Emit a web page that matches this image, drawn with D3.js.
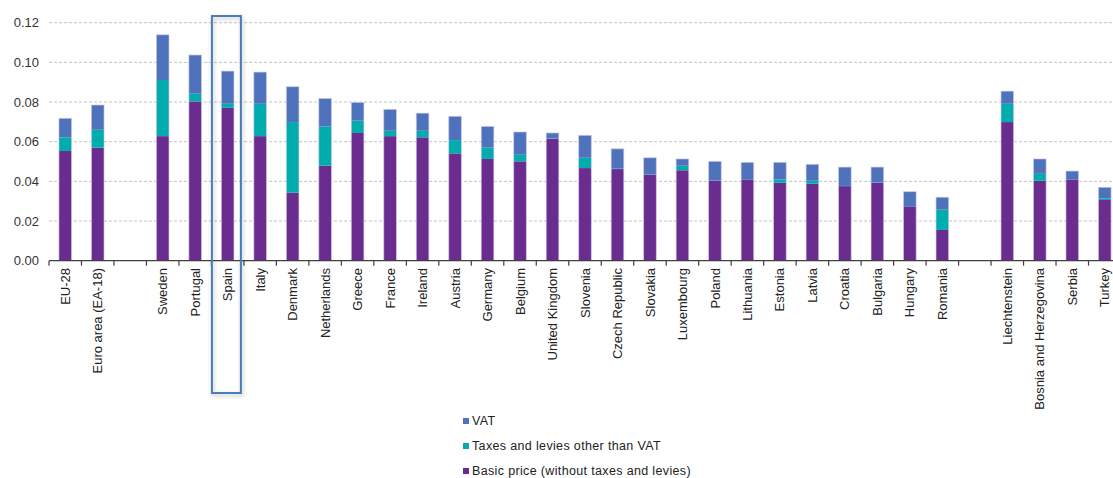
<!DOCTYPE html>
<html><head><meta charset="utf-8">
<script src="https://cdn.jsdelivr.net/npm/d3@7"></script>
<style>body{margin:0;background:#fff;}svg{display:block;font-family:"Liberation Sans",Arial,sans-serif;}</style>
</head><body><svg id="c" width="1113" height="478"></svg>
<script>
const categories = ["EU-28","Euro area (EA-18)","","Sweden","Portugal","Spain","Italy","Denmark","Netherlands","Greece","France","Ireland","Austria","Germany","Belgium","United Kingdom","Slovenia","Czech Republic","Slovakia","Luxembourg","Poland","Lithuania","Estonia","Latvia","Croatia","Bulgaria","Hungary","Romania"," ","Liechtenstein","Bosnia and Herzegovina","Serbia","Turkey"];
const basicPrice = [0.0553,0.0570,null,0.0628,0.0803,0.0771,0.0628,0.0343,0.0479,0.0644,0.0628,0.0622,0.0541,0.0513,0.0501,0.0615,0.0467,0.0462,0.0433,0.0456,0.0403,0.0410,0.0393,0.0388,0.0376,0.0393,0.0274,0.0155,null,0.0699,0.0403,0.0410,0.0306];
const otherTaxes = [0.0069,0.0090,null,0.0283,0.0039,0.0020,0.0163,0.0356,0.0198,0.0062,0.0027,0.0033,0.0067,0.0057,0.0033,0.0002,0.0052,0.0002,0.0001,0.0023,0.0001,0.0001,0.0017,0.0015,0.0001,0.0001,0.0001,0.0102,null,0.0092,0.0035,0.0001,0.0008];
const vat = [0.0096,0.0125,null,0.0228,0.0195,0.0165,0.0160,0.0178,0.0141,0.0092,0.0108,0.0089,0.0120,0.0107,0.0115,0.0027,0.0113,0.0100,0.0085,0.0034,0.0097,0.0085,0.0086,0.0083,0.0095,0.0078,0.0073,0.0063,null,0.0064,0.0075,0.0041,0.0056];
const yTicks = [0,0.02,0.04,0.06,0.08,0.10,0.12];
const seriesNames = ["VAT","Taxes and levies other than VAT","Basic price (without taxes and levies)"];
const colors = {basic:"#6a2d8f", other:"#00acac", vat:"#4e73bc"};

const svg = d3.select("#c");
const mLeft = 49, mRight = 1121, mTop = 22.7, mBottom = 260.7;
const x = d3.scaleBand().domain(categories.map((d,i)=>i)).range([mLeft,mRight]).padding(0);
const y = d3.scaleLinear().domain([0,0.12]).range([mBottom,mTop]);

// gridlines
svg.append("g").selectAll("line").data(yTicks.filter(d=>d>0)).join("line")
  .attr("x1",mLeft).attr("x2",1113).attr("y1",d=>y(d)).attr("y2",d=>y(d))
  .attr("stroke","#c4c4c4").attr("stroke-dasharray","3,2").attr("stroke-width",1);

// y labels
svg.append("g").selectAll("text").data(yTicks).join("text")
  .attr("x",39).attr("y",d=>y(d)).attr("dy","0.35em").attr("text-anchor","end")
  .attr("font-size",13).attr("fill","#333").text(d=>d.toFixed(2));

// bars
const bw = 12.6;
const rows = categories.map((c,i)=>({i,c,b:basicPrice[i],o:otherTaxes[i],v:vat[i]})).filter(d=>d.b!=null);
const g = svg.append("g");
rows.forEach(d=>{
  const cx = x(d.i)+x.bandwidth()/2;
  const segs = [[0,d.b,colors.basic],[d.b,d.b+d.o,colors.other],[d.b+d.o,d.b+d.o+d.v,colors.vat]];
  segs.forEach(s=>{
    g.append("rect").attr("x",cx-bw/2).attr("width",bw)
      .attr("y",y(s[1])).attr("height",Math.max(0,y(s[0])-y(s[1]))).attr("fill",s[2]);
  });
  g.append("rect").attr("x",cx-bw/2).attr("width",bw).attr("y",y(d.b+d.o+d.v))
    .attr("height",y(0)-y(d.b+d.o+d.v)).attr("fill","none").attr("stroke","#cfc6ea").attr("stroke-width",0.8).attr("stroke-opacity",0.8);
});

// x axis
svg.append("line").attr("x1",mLeft).attr("x2",1113).attr("y1",mBottom).attr("y2",mBottom).attr("stroke","#404040").attr("stroke-width",1.2);
const edges = categories.map((d,i)=>x(i)).concat([mRight]);
svg.append("g").selectAll("line").data(edges).join("line")
  .attr("x1",d=>d).attr("x2",d=>d).attr("y1",mBottom).attr("y2",mBottom+5).attr("stroke","#404040").attr("stroke-width",1.2);

// x labels
svg.append("g").selectAll("text").data(categories.map((c,i)=>({c,i})).filter(d=>d.c.trim()!=="")).join("text")
  .attr("transform",d=>`translate(${x(d.i)+x.bandwidth()/2},268) rotate(-90)`)
  .attr("text-anchor","end").attr("dy","0.35em").attr("font-size",13).attr("fill","#222").text(d=>d.c);

// Spain highlight box
const si = categories.indexOf("Spain");
svg.append("rect").attr("x",x(si)+0.5).attr("y",16).attr("width",x.bandwidth()-3.5).attr("height",377)
  .attr("fill","none").attr("stroke","#4a7ebb").attr("stroke-width",2)
  .style("filter","drop-shadow(1px 2px 2px rgba(0,0,0,0.25))");

// legend
const lg = svg.append("g").attr("transform","translate(463,0)");
const legendColors = [colors.vat,colors.other,colors.basic];
const ly = [421,446,471];
seriesNames.forEach((n,k)=>{
  lg.append("rect").attr("x",0).attr("y",ly[k]-3).attr("width",6).attr("height",6).attr("fill",legendColors[k]);
  lg.append("text").attr("x",9).attr("y",ly[k]).attr("dy","0.35em").attr("font-size",12.5)
    .attr("letter-spacing","0.35px").attr("fill","#222").text(n);
});
</script></body></html>
